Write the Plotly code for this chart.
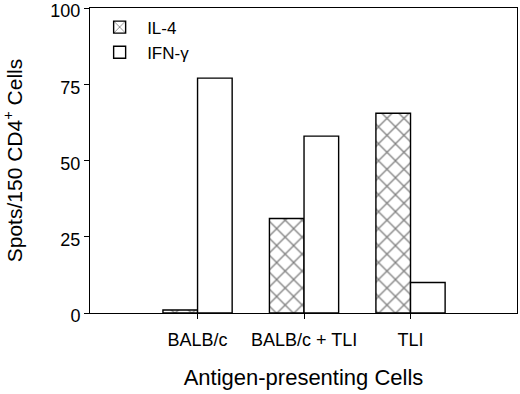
import plotly.graph_objects as go

categories = ["BALB/c", "BALB/c + TLI", "TLI"]
il4 = [1, 31, 65.5]
ifn = [77, 58, 10]
y_ticks = [0, 25, 50, 75, 100]

x_pos = list(range(len(categories)))
FONT = "Liberation Sans, Arial, sans-serif"

fig = go.Figure()
fig.add_trace(go.Bar(
    x=x_pos, y=il4, name="IL-4",
    marker=dict(color="white", line=dict(color="black", width=1.4),
                pattern=dict(shape="x", fgcolor="black", bgcolor="white",
                             size=12, solidity=0.2, fillmode="overlay")),
))
fig.add_trace(go.Bar(
    x=x_pos, y=ifn, name="IFN-γ",
    marker=dict(color="white", line=dict(color="black", width=1.4)),
))

fig.update_layout(
    width=520, height=394,
    margin=dict(l=90, r=3, t=8, b=81),
    paper_bgcolor="white", plot_bgcolor="white",
    barmode="group", bargap=0.35, bargroupgap=0,
    font=dict(family=FONT, color="black", size=18),
    showlegend=True,
    legend=dict(x=0.005, y=0.995, xanchor="left", yanchor="top",
                bgcolor="rgba(0,0,0,0)", font=dict(size=17),
                itemwidth=45, tracegroupgap=4),
)
fig.update_xaxes(
    range=[-1.01, 3.0], tickmode="array", tickvals=x_pos, ticktext=categories,
    ticks="outside", ticklen=5, tickcolor="black", tickwidth=1,
    showline=True, linecolor="black", linewidth=1, mirror=True,
    showgrid=False, zeroline=False, automargin=False,
    ticklabeloverflow="allow", ticklabelstandoff=5,
    title=dict(text="Antigen-presenting Cells", font=dict(size=22), standoff=21),
    tickfont=dict(size=18),
)
fig.update_yaxes(
    range=[0, 100], tickmode="array", tickvals=y_ticks,
    ticks="outside", ticklen=5, tickcolor="black", tickwidth=1,
    showline=True, linecolor="black", linewidth=1, mirror=True,
    showgrid=False, zeroline=False, automargin=False,
    ticklabeloverflow="allow", ticklabelshift=3,
    title=dict(text="Spots/150 CD4<sup>+</sup> Cells", font=dict(size=21), standoff=23),
    tickfont=dict(size=18),
)

fig.write_html("out.html", default_width="520px", default_height="394px",
               config={"displayModeBar": False})

with open("out.html", "r", encoding="utf-8") as f:
    html = f.read()
html = html.replace("<head>", "<head><style>html,body{margin:0;padding:0;overflow:hidden;}</style>", 1)
with open("out.html", "w", encoding="utf-8") as f:
    f.write(html)
